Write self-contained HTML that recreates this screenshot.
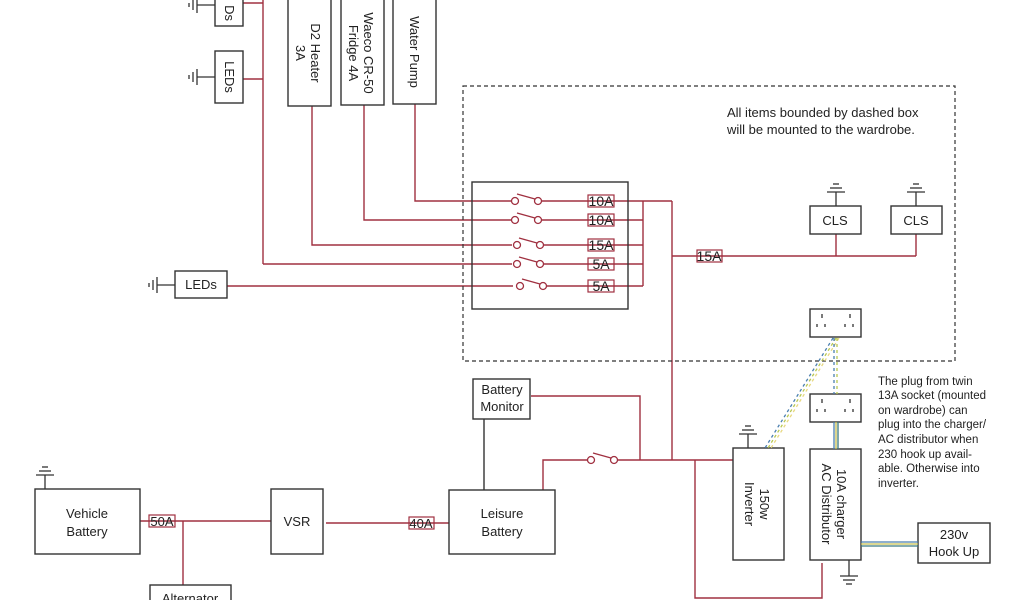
<!DOCTYPE html>
<html><head><meta charset="utf-8"><style>
html,body{margin:0;padding:0;background:#fff;width:1024px;height:600px;overflow:hidden}
svg{display:block}
text{font-family:"Liberation Sans",sans-serif;font-size:13px;fill:#222}
</style></head><body>
<svg width="1024" height="600" viewBox="0 0 1024 600" xmlns="http://www.w3.org/2000/svg">
<defs>
<g id="gndL" stroke="#333" stroke-width="1.3" fill="none"><line x1="0" y1="0" x2="-18" y2="0"/><line x1="-18" y1="-8" x2="-18" y2="8"/><line x1="-22" y1="-5" x2="-22" y2="5"/><line x1="-26" y1="-2" x2="-26" y2="2"/></g>
<g id="gndU" stroke="#333" stroke-width="1.3" fill="none"><line x1="0" y1="0" x2="0" y2="-14"/><line x1="-9" y1="-14" x2="9" y2="-14"/><line x1="-6" y1="-18" x2="6" y2="-18"/><line x1="-3" y1="-22" x2="3" y2="-22"/></g>
<g id="sw" stroke="#a03040" stroke-width="1.3" fill="#fff"><circle cx="0" cy="0" r="3.5"/><circle cx="23" cy="0" r="3.5"/><line x1="2" y1="-7" x2="20" y2="-2"/></g>
</defs>
<g fill="none" stroke="#a03040" stroke-width="1.4">
<line x1="263" y1="0" x2="263" y2="264"/>
<line x1="243" y1="3" x2="263" y2="3"/>
<line x1="243" y1="79" x2="263" y2="79"/>
<polyline points="312,106 312,245 512,245"/>
<polyline points="364,105 364,220 511,220"/>
<polyline points="415,104 415,201 511,201"/>
<line x1="263" y1="264" x2="512" y2="264"/>
<line x1="227" y1="286" x2="513" y2="286"/>
<line x1="538" y1="201" x2="672" y2="201"/>
<line x1="538" y1="220" x2="643" y2="220"/>
<line x1="540" y1="245" x2="643" y2="245"/>
<line x1="540" y1="264" x2="643" y2="264"/>
<line x1="543" y1="286" x2="643" y2="286"/>
<line x1="643" y1="201" x2="643" y2="286"/>
<line x1="672" y1="201" x2="672" y2="460"/>
<line x1="672" y1="256" x2="916" y2="256"/>
<line x1="836" y1="234" x2="836" y2="256"/>
<line x1="916" y1="234" x2="916" y2="256"/>
<polyline points="531,396 640,396 640,460"/>
<polyline points="543,490 543,460 587,460"/>
<line x1="617" y1="460" x2="733" y2="460"/>
<polyline points="695,460 695,598 822,598 822,563"/>
<line x1="140" y1="521" x2="271" y2="521"/>
<line x1="183" y1="521" x2="183" y2="585"/>
<line x1="326" y1="523" x2="449" y2="523"/>
<rect x="588" y="195" width="26" height="12" stroke-width="1.2"/>
<rect x="588" y="214" width="26" height="12" stroke-width="1.2"/>
<rect x="588" y="239" width="26" height="12" stroke-width="1.2"/>
<rect x="588" y="258" width="26" height="12" stroke-width="1.2"/>
<rect x="588" y="280" width="26" height="12" stroke-width="1.2"/>
<rect x="697" y="250" width="25" height="12" stroke-width="1.2"/>
<rect x="149" y="515" width="26" height="12" stroke-width="1.2"/>
<rect x="409" y="517" width="25" height="12" stroke-width="1.2"/>
</g>
<use href="#sw" x="515" y="201"/><use href="#sw" x="515" y="220"/><use href="#sw" x="517" y="245"/><use href="#sw" x="517" y="264"/><use href="#sw" x="520" y="286"/><use href="#sw" x="591" y="460"/>
<g fill="none" stroke="#333" stroke-width="1.4">
<rect x="215" y="-2" width="28" height="28"/>
<rect x="215" y="51" width="28" height="52"/>
<rect x="288" y="-2" width="43" height="108"/>
<rect x="341" y="-2" width="43" height="107"/>
<rect x="393" y="-2" width="43" height="106"/>
<rect x="472" y="182" width="156" height="127"/>
<rect x="175" y="271" width="52" height="27"/>
<rect x="810" y="206" width="51" height="28"/>
<rect x="891" y="206" width="51" height="28"/>
<rect x="810" y="309" width="51" height="28"/>
<rect x="810" y="394" width="51" height="28"/>
<rect x="733" y="448" width="51" height="112"/>
<rect x="810" y="449" width="51" height="111"/>
<rect x="918" y="523" width="72" height="40"/>
<rect x="473" y="379" width="57" height="40"/>
<rect x="449" y="490" width="106" height="64"/>
<rect x="35" y="489" width="105" height="65"/>
<rect x="271" y="489" width="52" height="65"/>
<rect x="150" y="585" width="81" height="30"/>
<line x1="484" y1="419" x2="484" y2="490"/>
<rect x="463" y="86" width="492" height="275" stroke-dasharray="4,3" stroke-width="1.2"/>
</g>
<use href="#gndL" x="215" y="5"/><use href="#gndL" x="215" y="77"/><use href="#gndL" x="175" y="285"/>
<use href="#gndU" x="836" y="206"/><use href="#gndU" x="916" y="206"/><use href="#gndU" x="748" y="448"/><use href="#gndU" x="45" y="489"/>
<g stroke="#333" stroke-width="1.3" fill="none"><line x1="849" y1="560" x2="849" y2="576"/><line x1="840" y1="576" x2="858" y2="576"/><line x1="843" y1="580" x2="855" y2="580"/><line x1="846" y1="584" x2="852" y2="584"/></g>
<g stroke="#333" stroke-width="1.3">
<path d="M822 314v4M850 314v4M817 324v3M825 324v3M845 324v3M853 324v3M822 399v4M850 399v4M817 409v3M825 409v3M845 409v3M853 409v3"/>
</g>
<g fill="none" stroke-width="1.3" stroke-dasharray="3,3">
<line x1="833" y1="338" x2="765" y2="448" stroke="#4a7fb0"/><line x1="836" y1="338" x2="768" y2="448" stroke="#b8c850"/><line x1="839" y1="338" x2="771" y2="448" stroke="#e8d880"/>
<line x1="834" y1="338" x2="834" y2="394" stroke="#4a7fb0"/><line x1="837" y1="338" x2="837" y2="394" stroke="#b8c850"/>
</g>
<g fill="none" stroke-width="1.3">
<line x1="834" y1="422" x2="834" y2="449" stroke="#4a7fb0"/><line x1="836" y1="422" x2="836" y2="449" stroke="#c8c050"/><line x1="838" y1="422" x2="838" y2="449" stroke="#3a7a80"/>
<line x1="861" y1="542" x2="918" y2="542" stroke="#4a7fb0"/><line x1="861" y1="544" x2="918" y2="544" stroke="#c8c050"/><line x1="861" y1="546" x2="918" y2="546" stroke="#3a7a80"/>
</g>
<g text-anchor="middle">
<text transform="translate(229,13) rotate(90)" dy="4">Ds</text>
<text transform="translate(229,77) rotate(90)" dy="4">LEDs</text>
<text transform="translate(309,53) rotate(90)"><tspan x="0" dy="-2">D2 Heater</tspan><tspan x="0" dy="15">3A</tspan></text>
<text transform="translate(362,53) rotate(90)"><tspan x="0" dy="-2">Waeco CR-50</tspan><tspan x="0" dy="15">Fridge 4A</tspan></text>
<text transform="translate(414,52) rotate(90)" dy="4">Water Pump</text>
<text x="201" y="289">LEDs</text>
<text x="835" y="225">CLS</text><text x="916" y="225">CLS</text>
<text x="601" y="206" style="font-size:14px">10A</text><text x="601" y="225" style="font-size:14px">10A</text><text x="601" y="250" style="font-size:14px">15A</text><text x="601" y="269" style="font-size:14px">5A</text><text x="601" y="291" style="font-size:14px">5A</text>
<text x="709" y="261" style="font-size:14px">15A</text>
<text x="162" y="526" style="font-size:13px">50A</text><text x="421" y="528" style="font-size:13px">40A</text>
<text transform="translate(758,504) rotate(90)"><tspan x="0" dy="-2">150w</tspan><tspan x="0" dy="15">Inverter</tspan></text>
<text transform="translate(835,504) rotate(90)"><tspan x="0" dy="-2">10A charger</tspan><tspan x="0" dy="15">AC Distributor</tspan></text>
<text x="954" y="539">230v</text><text x="954" y="556">Hook Up</text>
<text x="502" y="394">Battery</text><text x="502" y="411">Monitor</text>
<text x="502" y="518">Leisure</text><text x="502" y="536">Battery</text>
<text x="87" y="518">Vehicle</text><text x="87" y="536">Battery</text>
<text x="297" y="526">VSR</text>
<text x="190" y="603">Alternator</text>
</g>
<text x="727" y="117">All items bounded by dashed box</text>
<text x="727" y="134">will be mounted to the wardrobe.</text>
<g>
<text x="878" y="385" style="font-size:11.5px">The plug from twin</text>
<text x="878" y="399" style="font-size:11.5px">13A socket (mounted</text>
<text x="878" y="414" style="font-size:11.5px">on wardrobe) can</text>
<text x="878" y="428" style="font-size:11.5px">plug into the charger/</text>
<text x="878" y="443" style="font-size:11.5px">AC distributor when</text>
<text x="878" y="458" style="font-size:11.5px">230 hook up avail-</text>
<text x="878" y="472" style="font-size:11.5px">able. Otherwise into</text>
<text x="878" y="487" style="font-size:11.5px">inverter.</text>
</g>
</svg>
</body></html>
